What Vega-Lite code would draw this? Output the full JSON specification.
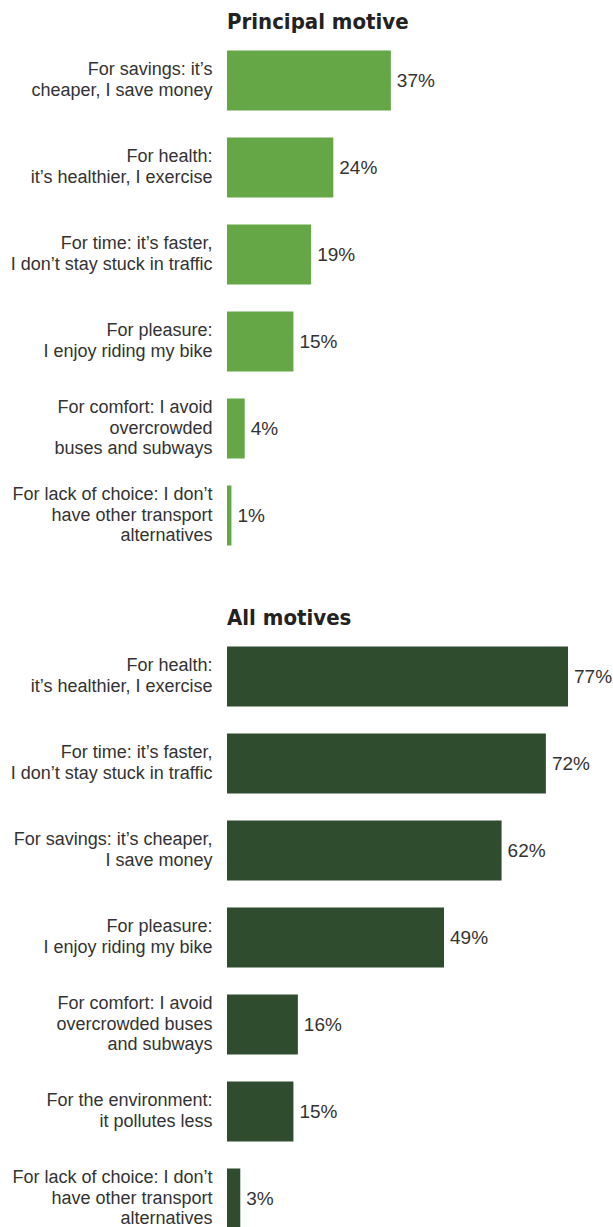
{
  "$schema": "https://vega.github.io/schema/vega-lite/v6.json",
  "background": "white",
  "padding": {"left": 10, "top": 11, "right": 0, "bottom": 0},
  "config": {
    "view": {"stroke": null},
    "font": "Liberation Sans",
    "title": {"font": "'DejaVu Sans Condensed', 'DejaVu Sans', sans-serif", "fontWeight": "bold", "fontSize": 22, "color": "#222222", "anchor": "start", "frame": "group", "offset": 3},
    "axisY": {"title": null, "ticks": false, "tickSize": 0, "domain": false, "grid": false, "labelPadding": 15, "labelFontSize": 18, "labelColor": "#333333", "labelLineHeight": 20.5, "labelLimit": 400, "labelExpr": "split(datum.label, '|')",
      "labelOffset": {"condition": {"test": "length(split(datum.label, '|')) == 3", "value": -20.5}, "value": -10.25}},
    "concat": {"spacing": 48}
  },
  "datasets": {
    "principal": [
      {"motive": "For savings: it’s|cheaper, I save money", "share": 0.37},
      {"motive": "For health:|it’s healthier, I exercise", "share": 0.24},
      {"motive": "For time: it’s faster,|I don’t stay stuck in traffic", "share": 0.19},
      {"motive": "For pleasure:|I enjoy riding my bike", "share": 0.15},
      {"motive": "For comfort: I avoid|overcrowded|buses and subways", "share": 0.04},
      {"motive": "For lack of choice: I don’t|have other transport|alternatives", "share": 0.01}
    ],
    "all": [
      {"motive": "For health:|it’s healthier, I exercise", "share": 0.77},
      {"motive": "For time: it’s faster,|I don’t stay stuck in traffic", "share": 0.72},
      {"motive": "For savings: it’s cheaper,|I save money", "share": 0.62},
      {"motive": "For pleasure:|I enjoy riding my bike", "share": 0.49},
      {"motive": "For comfort: I avoid|overcrowded buses|and subways", "share": 0.16},
      {"motive": "For the environment:|it pollutes less", "share": 0.15},
      {"motive": "For lack of choice: I don’t|have other transport|alternatives", "share": 0.03}
    ]
  },
  "vconcat": [
    {
      "title": "Principal motive",
      "data": {"name": "principal"},
      "width": 380,
      "height": 522,
      "encoding": {
        "y": {"field": "motive", "type": "nominal", "sort": null, "scale": {"paddingInner": 0.31, "paddingOuter": 0.155}},
        "x": {"field": "share", "type": "quantitative", "scale": {"domain": [0, 0.858]}, "axis": null}
      },
      "layer": [
        {"mark": {"type": "bar", "color": "#65a747"}},
        {"mark": {"type": "text", "align": "left", "baseline": "middle", "dx": 6, "fontSize": 19, "color": "#333333"},
         "encoding": {"text": {"field": "share", "type": "quantitative", "format": ".0%"}}}
      ]
    },
    {
      "title": "All motives",
      "data": {"name": "all"},
      "width": 380,
      "height": 609,
      "encoding": {
        "y": {"field": "motive", "type": "nominal", "sort": null, "scale": {"paddingInner": 0.31, "paddingOuter": 0.155}},
        "x": {"field": "share", "type": "quantitative", "scale": {"domain": [0, 0.858]}, "axis": null}
      },
      "layer": [
        {"mark": {"type": "bar", "color": "#2f4d2e"}},
        {"mark": {"type": "text", "align": "left", "baseline": "middle", "dx": 6, "fontSize": 19, "color": "#333333"},
         "encoding": {"text": {"field": "share", "type": "quantitative", "format": ".0%"}}}
      ]
    }
  ]
}
